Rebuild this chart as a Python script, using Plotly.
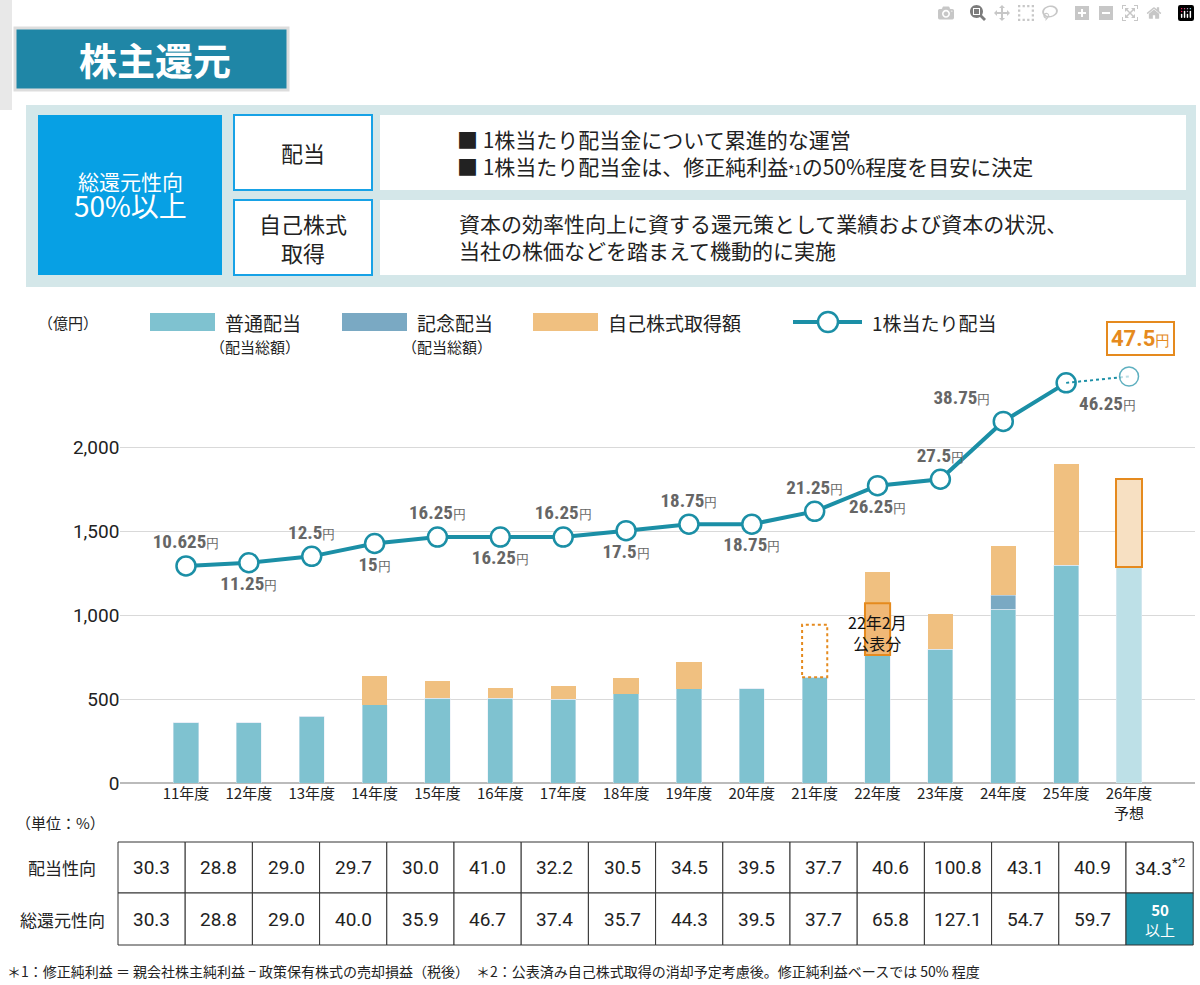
import plotly.graph_objects as go

W, H = 1200, 985

years = ["11年度", "12年度", "13年度", "14年度", "15年度", "16年度", "17年度", "18年度",
         "19年度", "20年度", "21年度", "22年度", "23年度", "24年度", "25年度", "26年度<br>予想"]
ordinary = [359, 359, 396, 467, 506, 504, 498, 532, 561, 561, 630, 762, 796, 1034, 1295, 1287]
commemorative = [0, 0, 0, 0, 0, 0, 0, 0, 0, 0, 0, 0, 0, 83, 0, 0]
buyback = [0, 0, 0, 167, 99, 61, 79, 96, 162, 0, 0, 493, 213, 296, 603, 520]
dps = [10.625, 11.25, 12.5, 15, 16.25, 16.25, 16.25, 17.5, 18.75, 18.75, 21.25, 26.25,
       27.5, 38.75, 46.25, 47.5]
dps_labels = ["10.625", "11.25", "12.5", "15", "16.25", "16.25", "16.25", "17.5", "18.75",
              "18.75", "21.25", "26.25", "27.5", "38.75", "46.25"]
dps_pos = ["top center", "bottom center", "top center", "bottom center", "top center",
           "bottom center", "top center", "bottom center", "top center", "bottom center",
           "top center", "bottom center", "top center", "top left", "bottom right"]
payout = ["30.3", "28.8", "29.0", "29.7", "30.0", "41.0", "32.2", "30.5", "34.5", "39.5",
          "37.7", "40.6", "100.8", "43.1", "40.9", "34.3<sup>*2</sup>"]
total_payout = ["30.3", "28.8", "29.0", "40.0", "35.9", "46.7", "37.4", "35.7", "44.3",
                "39.5", "37.7", "65.8", "127.1", "54.7", "59.7", "<b>50</b><br>以上"]
# 21年度 planned buyback (dashed) and 22年2月 announced portion
planned_21 = (630, 942)
announced_22 = (762, 1070)

FONT = "Noto Sans CJK JP"
TEAL = "#1b8fa6"
ORANGE = "#e58a1e"
C_ORD, C_COM, C_BUY = "#7fc2d0", "#7aa9c3", "#f0c080"
n = len(years)
ord_col = [C_ORD] * (n - 1) + ["#bde0e7"]
buy_col = [C_BUY] * (n - 1) + ["#f7e0c2"]


def px(x):
    return x / W


def py(y):
    return 1 - y / H


ann = []


def label(x, y, text, size, color="#222", xanchor="center", family=FONT, **kw):
    ann.append(dict(x=px(x), y=py(y), xref="paper", yref="paper", text=text, showarrow=False,
                    xanchor=xanchor, yanchor="middle", font=dict(size=size, color=color, family=family), **kw))


fig = go.Figure()
fig.add_trace(go.Bar(x=years, y=ordinary, marker_color=ord_col, width=0.4, showlegend=False))
fig.add_trace(go.Bar(x=years, y=commemorative, marker_color=C_COM, width=0.4, showlegend=False))
fig.add_trace(go.Bar(x=years, y=buyback, marker_color=buy_col, width=0.4, showlegend=False,
                     marker_line=dict(color=[C_BUY] * (n - 1) + [ORANGE], width=[0] * (n - 1) + [2])))
fig.add_trace(go.Scatter(x=years[:-1], y=dps[:-1], yaxis="y2", mode="lines+markers+text",
                         line=dict(color=TEAL, width=4),
                         marker=dict(size=19, color="white", line=dict(color=TEAL, width=2.5)),
                         text=[f"<b>{t}</b><span style='font-size:13px'>円</span>" for t in dps_labels],
                         textposition=dps_pos,
                         textfont=dict(size=19, color="#666666", family="Roboto Condensed, Roboto"),
                         showlegend=False, cliponaxis=False))
fig.add_trace(go.Scatter(x=years[-2:], y=dps[-2:], yaxis="y2", mode="lines+markers",
                         line=dict(color=TEAL, width=2, dash="dot"),
                         marker=dict(size=[0, 19], color="white", line=dict(color=TEAL, width=1.5)),
                         showlegend=False, cliponaxis=False))

shapes = []
i21, i22 = 10, 11
shapes.append(dict(type="rect", xref="x", yref="y", x0=i21 - 0.2, x1=i21 + 0.2,
                   y0=planned_21[0], y1=planned_21[1], line=dict(color=ORANGE, width=2, dash="dot")))
shapes.append(dict(type="rect", xref="x", yref="y", x0=i22 - 0.2, x1=i22 + 0.2,
                   y0=announced_22[0], y1=announced_22[1], fillcolor="#f0b876",
                   line=dict(color=ORANGE, width=2), layer="above"))
ann.append(dict(x=i22, y=sum(announced_22) / 2 - 20, xref="x", yref="y", text="22年2月<br>公表分",
                showarrow=False, font=dict(size=16, color="#111", family=FONT)))
label(1140, 338, "<b>47.5</b><span style='font-size:15px'>円</span>", 22, ORANGE, family="Roboto",
      bgcolor="white", bordercolor=ORANGE, borderwidth=2, borderpad=3)

# header
shapes.append(dict(type="rect", xref="paper", yref="paper", x0=0, x1=px(12), y0=py(110), y1=py(0),
                   fillcolor="#e8e8e8", line_width=0))
shapes.append(dict(type="rect", xref="paper", yref="paper", x0=px(15), x1=px(288), y0=py(90), y1=py(28),
                   fillcolor="#1f86a6", line=dict(color="#dddddd", width=3)))
label(155, 58, "<b>株主還元</b>", 38, "white")
# info panel
shapes.append(dict(type="rect", xref="paper", yref="paper", x0=px(26), x1=px(1196), y0=py(287), y1=py(105),
                   fillcolor="#d4e7e9", line_width=0))
shapes.append(dict(type="rect", xref="paper", yref="paper", x0=px(38), x1=px(222), y0=py(275), y1=py(115),
                   fillcolor="#07a0e4", line_width=0))
label(130, 195, "総還元性向<br><span style='font-size:28px'>50%以上</span>", 21, "white")
for y0, y1, txt in [(115, 190, "配当"), (200, 275, "自己株式<br>取得")]:
    shapes.append(dict(type="rect", xref="paper", yref="paper", x0=px(234), x1=px(372), y0=py(y1), y1=py(y0),
                       fillcolor="white", line=dict(color="#17a2e6", width=2)))
    label(303, (y0 + y1) / 2, txt, 22)
    shapes.append(dict(type="rect", xref="paper", yref="paper", x0=px(380), x1=px(1186), y0=py(y1), y1=py(y0),
                       fillcolor="white", line_width=0))
label(455, 152, "■ 1株当たり配当金について累進的な運営<br>■ 1株当たり配当金は、修正純利益<span style='font-size:13px'>*1</span>の50%程度を目安に決定",
      21, xanchor="left", align="left")
label(457, 237, "資本の効率性向上に資する還元策として業績および資本の状況、<br>当社の株価などを踏まえて機動的に実施",
      21, xanchor="left", align="left")

# legend
label(68, 322, "（億円）", 15)
for x0, col, lab, sub in [(150, C_ORD, "普通配当", "（配当総額）"), (342, C_COM, "記念配当", "（配当総額）"),
                          (533, C_BUY, "自己株式取得額", "")]:
    shapes.append(dict(type="rect", xref="paper", yref="paper", x0=px(x0), x1=px(x0 + 65), y0=py(331), y1=py(313),
                       fillcolor=col, line_width=0))
    label(x0 + 73, 322, lab, 19, xanchor="left")
    if sub:
        label(x0 + 58, 347, sub, 15, xanchor="left")
shapes.append(dict(type="line", xref="paper", yref="paper", x0=px(793), x1=px(862), y0=py(322), y1=py(322),
                   line=dict(color=TEAL, width=4)))
shapes.append(dict(type="circle", xref="paper", yref="paper", x0=px(818), x1=px(838), y0=py(332), y1=py(312),
                   fillcolor="white", line=dict(color=TEAL, width=2.5)))
label(870, 322, "1株当たり配当", 19, xanchor="left")

# table
label(60, 822, "（単位：%）", 15)
cx0, cw = 118, 67.2
rows = [(842, 893, "配当性向", payout), (893, 945, "総還元性向", total_payout)]
for y0, y1, lab, vals in rows:
    label(62, (y0 + y1) / 2, lab, 17)
    for i, v in enumerate(vals):
        hl = (lab == "総還元性向" and i == n - 1)
        shapes.append(dict(type="rect", xref="paper", yref="paper", x0=px(cx0 + i * cw), x1=px(cx0 + (i + 1) * cw),
                           y0=py(y1), y1=py(y0), fillcolor="#1f96ad" if hl else "white",
                           line=dict(color="#333", width=1)))
        if hl:
            label(cx0 + (i + 0.5) * cw, (y0 + y1) / 2, v, 15, "white")
        else:
            label(cx0 + (i + 0.5) * cw, (y0 + y1) / 2, v, 19, family="Roboto")
label(5, 971, "＊1：修正純利益 ＝ 親会社株主純利益 − 政策保有株式の売却損益（税後）　＊2：公表済み自己株式取得の消却予定考慮後。修正純利益ベースでは 50% 程度",
      14, xanchor="left")

fig.update_layout(
    width=W, height=H, margin=dict(l=0, r=0, t=0, b=0), barmode="stack",
    plot_bgcolor="white", paper_bgcolor="white", font=dict(family=FONT),
    xaxis=dict(domain=[px(120.4), px(1194.6)], tickfont=dict(size=15, color="#222"), showline=False,
               ticks="", automargin=False),
    yaxis=dict(domain=[py(783), py(360)], range=[0, 2518], tickvals=[0, 500, 1000, 1500, 2000],
               tickformat=",", tickfont=dict(size=19, color="#222", family="Roboto"), automargin=False,
               gridcolor="#d9d9d9", zeroline=True, zerolinecolor="#bbbbbb", zerolinewidth=2),
    yaxis2=dict(overlaying="y", range=[-31.6, 50.7], visible=False, showgrid=False, automargin=False),
    shapes=shapes, annotations=ann,
)
fig.write_html("out.html", post_script="document.body.style.margin='0';")
